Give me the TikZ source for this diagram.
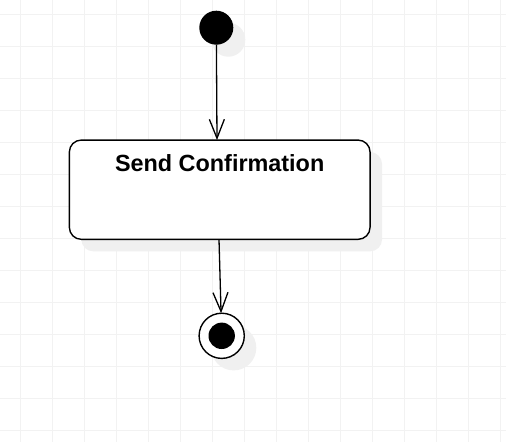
\documentclass[tikz,border=0pt]{standalone}
\usepackage{fontspec}
\setmainfont{Liberation Sans}
\usetikzlibrary{arrows.meta,shadows}

\tikzstyle{shade}=[drop shadow={shadow xshift=12pt,
    shadow yshift=-12pt,
    fill=black!6,
    opacity=1}]
\tikzstyle{activity}=[rectangle,
    rounded corners=12pt,
    line width=1.4pt,
    minimum width=300.7pt,
    minimum height=99.3pt,
    inner sep=0pt,
    outer sep=0pt,
    draw=black,
    fill=white,
    shade]
\tikzstyle{startstate}=[circle,
    minimum size=34pt,
    inner sep=0pt,
    outer sep=0pt,
    fill=black,
    shade]
\tikzstyle{endstate}=[circle,
    minimum size=45.2pt,
    inner sep=0pt,
    outer sep=0pt,
    line width=1.4pt,
    draw=black,
    fill=white,
    shade]
\tikzstyle{enddot}=[circle,
    minimum size=26.4pt,
    inner sep=0pt,
    fill=black]
\tikzstyle{flow}=[line width=1.3pt,
    -{Straight Barb[length=19pt,width=15pt]}]
\tikzstyle{gridline}=[gray!10,line width=1pt]

\begin{document}
\begin{tikzpicture}[x=1pt,y=-1pt]
            \useasboundingbox [fill=white] (0,0) rectangle (506,442);
            % background grid
            \foreach \gx in {20.7,52.7,...,500.7}
                \draw [gridline] (\gx,0) -- (\gx,442);
            \foreach \gy in {14.3,46.3,...,430.3}
                \draw [gridline] (0,\gy) -- (506,\gy);

            \node (start) [startstate] at (216.3,27.7) {};
            \node (confirm) [activity] at (219.7,189.7) {};
            \node (title) [anchor=base,font=\fontsize{23.4}{28}\selectfont\bfseries]
                at ([yshift=-31.3pt]confirm.north) {Send Confirmation};
            \node (end) [endstate] at (221.7,335.8) {};
            \node (enddot) [enddot] at (end) {};

            \draw [flow] (start) -- ([xshift=-2.7pt]confirm.north);
            \draw [flow] ([xshift=-0.7pt]confirm.south) -- (end);
        \end{tikzpicture}
\end{document}
